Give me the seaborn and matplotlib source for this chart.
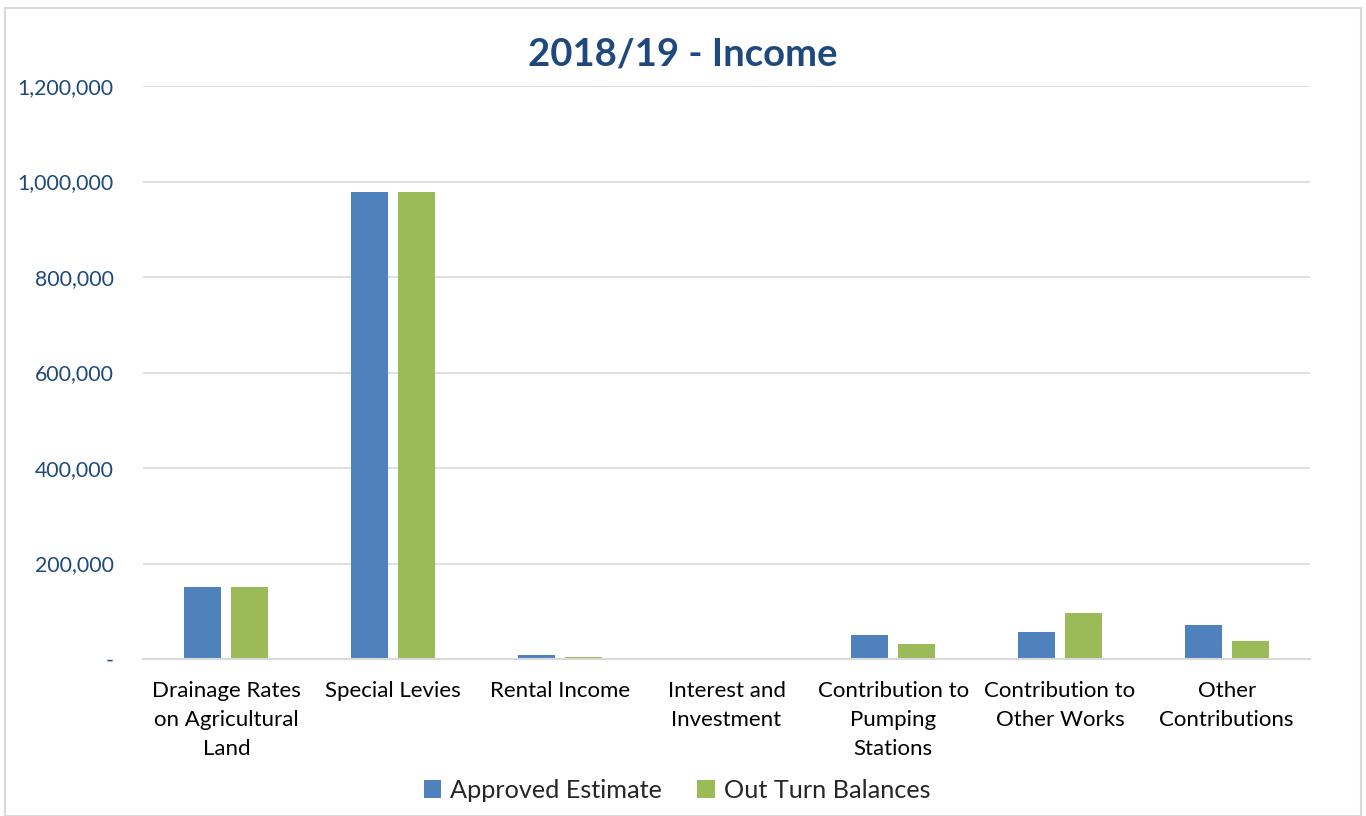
import matplotlib
matplotlib.use("Agg")
import matplotlib.pyplot as plt
import seaborn as sns
import pandas as pd
from matplotlib.patches import Rectangle
from matplotlib.ticker import FuncFormatter

categories = ["Drainage Rates\non Agricultural\nLand", "Special Levies", "Rental Income",
              "Interest and\nInvestment", "Contribution to\nPumping\nStations",
              "Contribution to\nOther Works", "Other\nContributions"]
approved = [151000, 978000, 7600, 0, 50000, 56500, 70500]
outturn = [151000, 978000, 4200, 0, 31000, 95500, 37000]
series = ["Approved Estimate", "Out Turn Balances"]
yticks = [0, 200000, 400000, 600000, 800000, 1000000, 1200000]

df = pd.DataFrame({
    "cat": categories * 2,
    "val": approved + outturn,
    "series": [series[0]] * len(categories) + [series[1]] * len(categories),
})

sns.set_theme(style="white")
plt.rcParams['font.family'] = ['Lato', 'DejaVu Sans']

fig = plt.figure(figsize=(13.66, 8.16), dpi=100)
ax = fig.add_axes([143/1366, 1 - 659/816, (1310-143)/1366, (659-86)/816])

sns.barplot(data=df, x="cat", y="val", hue="series", order=categories,
            hue_order=series, palette=["#4F81BD", "#9BBB59"], saturation=1,
            width=0.564, gap=0.213, ax=ax, legend=True, edgecolor="none")

ax.set_ylim(0, 1200000)
ax.set_xlim(-0.5, len(categories) - 0.5)
ax.set_yticks(yticks)
ax.yaxis.set_major_formatter(FuncFormatter(lambda v, p: "-" if v == 0 else f"{int(v):,}"))
ax.grid(axis="y", color="#D9D9D9", linewidth=1.2)
ax.set_axisbelow(True)
for s in ["top", "right", "left"]:
    ax.spines[s].set_visible(False)
ax.spines["bottom"].set_color("#D9D9D9")
ax.spines["bottom"].set_linewidth(1.5)
ax.tick_params(axis="both", length=0)
ax.tick_params(axis="y", labelsize=15.3, labelcolor="#1F497D", pad=21)
ax.set_xticks(range(len(categories)))
ax.set_xticklabels(categories, fontsize=16, color="#000000", linespacing=1.54, va="top")
ax.tick_params(axis="x", pad=16)
ax.set_xlabel("")
ax.set_ylabel("")

fig.text(683/1366, 1 - 55/816, "2018/19 - Income", ha="center", va="center",
         fontsize=27.5, fontweight="bold", color="#1F497D")

handles, labels = ax.get_legend_handles_labels()
ax.legend(handles, labels, loc="center", bbox_to_anchor=(677/1366, 1 - 790/816),
          bbox_transform=fig.transFigure, ncol=2, frameon=False, fontsize=18.2,
          handlelength=0.7, handleheight=0.7, handletextpad=0.35, columnspacing=1.4)

fig.patches.append(Rectangle((5/1366, 0), 1356/1366, 1 - 8/816, transform=fig.transFigure,
                             fill=False, edgecolor="#D9D9D9", linewidth=1.5))

fig.savefig("out.png", dpi=100)
